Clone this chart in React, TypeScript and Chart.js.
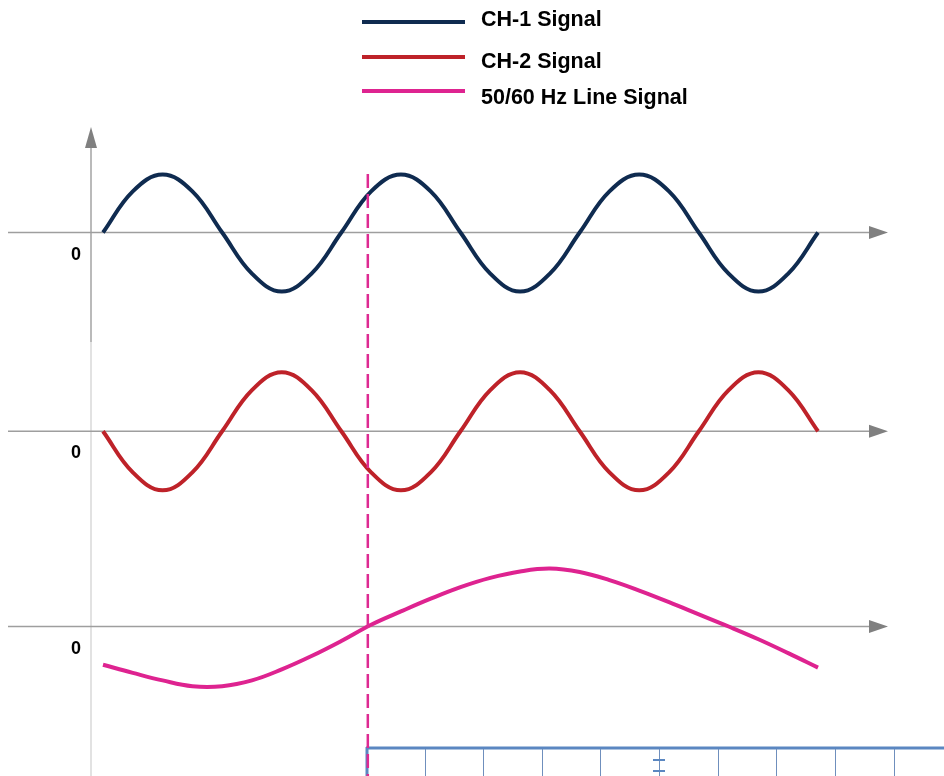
import React, { useEffect, useRef } from "react";
import { Chart, registerables } from "chart.js";

Chart.register(...registerables);

// Phase of the CH signals in degrees (three full cycles)
const phaseDeg = [
  0, 45, 90, 135, 180, 225, 270, 315, 360, 405, 450, 495, 540, 585, 630, 675,
  720, 765, 810, 855, 900, 945, 990, 1035, 1080,
];

const ch1Signal = [
  0, 0.71, 1.0, 0.71, 0, -0.71, -1.02, -0.71, 0, 0.71, 1.0, 0.71, 0, -0.71,
  -1.02, -0.71, 0, 0.71, 1.0, 0.71, 0, -0.71, -1.02, -0.71, 0,
];

const ch2Signal = [
  0, -0.71, -1.02, -0.71, 0, 0.71, 1.02, 0.71, 0, -0.71, -1.02, -0.71, 0, 0.71,
  1.02, 0.71, 0, -0.71, -1.02, -0.71, 0, 0.71, 1.02, 0.71, 0,
];

const lineSignal = [
  -0.66, -0.8, -0.93, -1.03, -1.03, -0.93, -0.74, -0.51, -0.25, 0.03, 0.26,
  0.48, 0.68, 0.84, 0.95, 1.0, 0.94, 0.8, 0.62, 0.42, 0.21, 0.0, -0.22, -0.46,
  -0.71,
];

const seriesLabels = ["CH-1 Signal", "CH-2 Signal", "50/60 Hz Line Signal"];
const seriesColors = ["#0f2b50", "#be2229", "#de2390"];
const zeroLabel = "0";
const triggerPhase = 400;
const scaleIds = ["yCh1", "yCh2", "yLine"];

const FONT = '"Liberation Sans", Arial, sans-serif';

const decorPlugin = {
  id: "decor",
  beforeDatasetsDraw(chart: any) {
    const ctx = chart.ctx as CanvasRenderingContext2D;
    const zeros = scaleIds.map((id) => chart.scales[id].getPixelForValue(0));
    ctx.save();
    const ax = 91;
    // vertical axis
    ctx.lineWidth = 1.5;
    ctx.strokeStyle = "#a3a3a3";
    ctx.beginPath();
    ctx.moveTo(ax, 146);
    ctx.lineTo(ax, 342);
    ctx.stroke();
    ctx.strokeStyle = "#d9d9d9";
    ctx.beginPath();
    ctx.moveTo(ax, 342);
    ctx.lineTo(ax, 776);
    ctx.stroke();
    ctx.fillStyle = "#808080";
    ctx.beginPath();
    ctx.moveTo(ax - 6, 148);
    ctx.lineTo(ax + 6, 148);
    ctx.lineTo(ax, 127);
    ctx.closePath();
    ctx.fill();
    // horizontal axes
    zeros.forEach((y: number) => {
      ctx.strokeStyle = "#9e9e9e";
      ctx.lineWidth = 1.4;
      ctx.beginPath();
      ctx.moveTo(8, y);
      ctx.lineTo(870, y);
      ctx.stroke();
      ctx.fillStyle = "#808080";
      ctx.beginPath();
      ctx.moveTo(869, y - 6.5);
      ctx.lineTo(869, y + 6.5);
      ctx.lineTo(888, y);
      ctx.closePath();
      ctx.fill();
      ctx.fillStyle = "#000";
      ctx.font = `bold 18px ${FONT}`;
      ctx.textAlign = "center";
      ctx.textBaseline = "alphabetic";
      ctx.fillText(zeroLabel, 76, y + 27);
    });
    ctx.restore();
  },
  afterDatasetsDraw(chart: any) {
    const ctx = chart.ctx as CanvasRenderingContext2D;
    ctx.save();
    // bottom box
    const blue = "#5b87c1";
    ctx.strokeStyle = blue;
    ctx.lineWidth = 3;
    ctx.beginPath();
    ctx.moveTo(366, 748);
    ctx.lineTo(944, 748);
    ctx.moveTo(367, 747);
    ctx.lineTo(367, 776);
    ctx.stroke();
    ctx.lineWidth = 1;
    ctx.strokeStyle = "#6f8fbd";
    for (let i = 0; i < 9; i++) {
      const x = Math.round(424.5 + 58.65 * i) + 0.5;
      ctx.beginPath();
      ctx.moveTo(x, 749);
      ctx.lineTo(x, 776);
      ctx.stroke();
    }
    ctx.lineWidth = 2;
    ctx.strokeStyle = blue;
    ctx.beginPath();
    ctx.moveTo(653, 760);
    ctx.lineTo(665, 760);
    ctx.moveTo(653, 771);
    ctx.lineTo(665, 771);
    ctx.stroke();
    // trigger dashed line
    const tx = chart.scales.x.getPixelForValue(triggerPhase);
    ctx.strokeStyle = "#de2a92";
    ctx.lineWidth = 2.5;
    ctx.setLineDash([14, 6]);
    ctx.beginPath();
    ctx.moveTo(tx, 174);
    ctx.lineTo(tx, 776);
    ctx.stroke();
    ctx.setLineDash([]);
    // legend
    const lineYs = [22, 57, 91];
    const textYs = [26, 67.5, 104];
    chart.data.datasets.forEach((ds: any, i: number) => {
      ctx.strokeStyle = ds.borderColor;
      ctx.lineWidth = 4;
      ctx.beginPath();
      ctx.moveTo(362, lineYs[i]);
      ctx.lineTo(465, lineYs[i]);
      ctx.stroke();
      ctx.fillStyle = "#000";
      ctx.font = `bold 21.5px ${FONT}`;
      ctx.textAlign = "left";
      ctx.textBaseline = "alphabetic";
      ctx.fillText(ds.label, 481, textYs[i]);
    });
    ctx.restore();
  },
};

export default function App() {
  const canvasRef = useRef<HTMLCanvasElement | null>(null);

  useEffect(() => {
    const canvas = canvasRef.current;
    if (!canvas) return;
    const series = [ch1Signal, ch2Signal, lineSignal];
    const chart = new Chart(canvas, {
      type: "line",
      data: {
        labels: phaseDeg,
        datasets: series.map((vals, i) => ({
          label: seriesLabels[i],
          data: phaseDeg.map((x, j) => ({ x, y: vals[j] })),
          borderColor: seriesColors[i],
          backgroundColor: seriesColors[i],
          borderWidth: 4,
          pointRadius: 0,
          tension: 0.4,
          borderCapStyle: "butt" as const,
          clip: false as any,
          yAxisID: scaleIds[i],
        })),
      },
      options: {
        responsive: false,
        animation: false,
        devicePixelRatio: 1,
        events: [],
        layout: { padding: { left: 103, right: 126, top: 134, bottom: 51 } },
        plugins: { legend: { display: false }, tooltip: { enabled: false } },
        scales: {
          x: { type: "linear", min: 0, max: 1080, display: false },
          yCh1: { type: "linear", min: -1.7, max: 1.7, display: false, position: "right", stack: "sig", stackWeight: 1 },
          yCh2: { type: "linear", min: -1.67, max: 1.73, display: false, position: "right", stack: "sig", stackWeight: 1 },
          yLine: { type: "linear", min: -1.7, max: 1.7, display: false, position: "right", stack: "sig", stackWeight: 1 },
        },
      },
      plugins: [decorPlugin],
    });
    return () => chart.destroy();
  }, []);

  return (
    <div style={{ position: "fixed", left: 0, top: 0, width: 944, height: 776, background: "#fff" }}>
      <canvas ref={canvasRef} width={944} height={776} style={{ display: "block" }} />
    </div>
  );
}
